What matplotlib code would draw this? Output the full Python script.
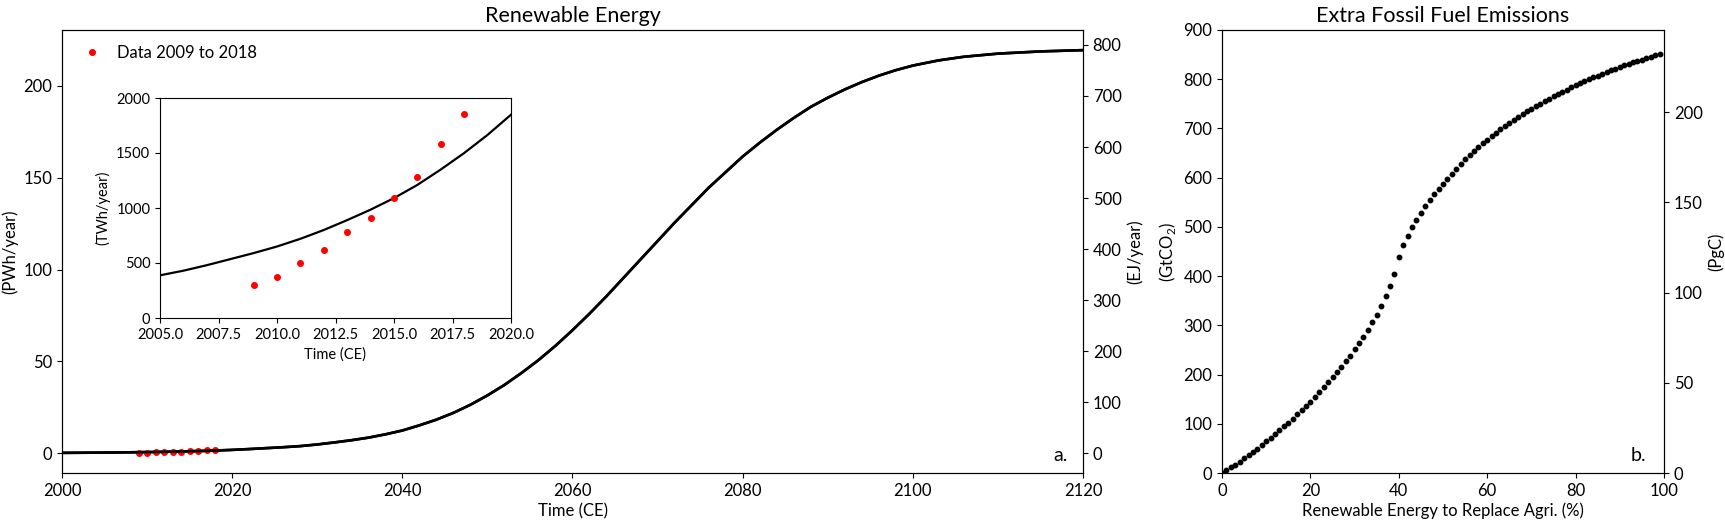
import numpy as np
import matplotlib
matplotlib.use('Agg')
import matplotlib.pyplot as plt

plt.rcParams['font.family'] = ['Lato', 'DejaVu Sans']
plt.rcParams['mathtext.fontset'] = 'custom'
plt.rcParams['mathtext.rm'] = 'Lato'

# fitted renewable energy curve (PWh/year)
fit_years = [2000, 2002, 2004, 2005, 2006, 2007, 2008, 2009, 2010, 2011, 2012, 2013, 2014,
             2015, 2016, 2017, 2018, 2019, 2020, 2022, 2024, 2026, 2028, 2030, 2032, 2034,
             2036, 2038, 2040, 2042, 2044, 2046, 2048, 2050, 2052, 2054, 2056, 2058, 2060,
             2062, 2064, 2066, 2068, 2070, 2072, 2074, 2076, 2078, 2080, 2082, 2084, 2086,
             2088, 2090, 2092, 2094, 2096, 2098, 2100, 2103, 2106, 2110, 2115, 2120]
fit_pwh = [0.23, 0.29, 0.35, 0.388, 0.43, 0.48, 0.535, 0.59, 0.65, 0.72, 0.80, 0.89, 0.985,
           1.09, 1.21, 1.35, 1.50, 1.665, 1.848, 2.3, 2.8, 3.3, 3.9, 4.8, 5.9, 7.1,
           8.5, 10.3, 12.4, 15.2, 18.3, 22.0, 26.4, 31.5, 37.2, 43.7, 50.7, 58.5, 67.0,
           76.0, 85.5, 95.5, 105.5, 115.5, 125.5, 135.0, 144.5, 153.0, 161.5, 169.0, 176.0, 182.5,
           188.5, 193.5, 198.0, 202.0, 205.5, 208.5, 211.0, 213.8, 215.8, 217.5, 218.7, 219.4]

# observed renewable generation 2009 to 2018 (TWh/year)
data_years = [2009, 2010, 2011, 2012, 2013, 2014, 2015, 2016, 2017, 2018]
data_twh = [297, 373, 500, 621, 782, 909, 1091, 1285, 1582, 1855]

# extra fossil fuel emissions (GtCO2) vs share of renewable energy (%)
pct = list(range(100))
emis = [0, 5.5, 11.2, 17.1, 23.2, 29.5, 36, 42.7, 49.6, 56.7,
        64, 71.5, 79, 86.7, 94.5, 102.5, 110.7, 119, 127.5, 136.2,
        145, 154.5, 164, 174, 184.5, 195, 205, 215, 227, 238,
        251, 264, 276, 291, 306, 322, 340, 359, 380, 404,
        438, 463, 482, 500, 514, 529, 542, 554, 566, 577,
        588, 598, 608, 618, 627.5, 637, 646, 654.5, 662.5, 670,
        677.5, 684.5, 691.5, 698, 704.5, 711, 717, 723, 729, 734.5,
        740, 745.5, 750.5, 755.5, 760.5, 765.5, 770, 774.5, 779, 783.5,
        788, 792, 796, 800, 804, 807.5, 811, 814.5, 818, 821.5,
        825, 828, 831, 834, 837, 840, 843, 846, 849, 852]

fit_pwh = np.array(fit_pwh)
data_twh = np.array(data_twh)
emis = np.array(emis)

fig = plt.figure(figsize=(17.25, 5.23), dpi=100)

# panel a
ax1 = fig.add_axes([62/1725, 50/523, 1021/1725, 443/523])
ax1.plot(fit_years, fit_pwh, color='black', lw=1.9)
ax1.plot(data_years, data_twh/1000, 'o', color='red', ms=4, label='Data 2009 to 2018')
ax1.set_xlim(2000, 2120)
ax1.set_xticks(range(2000, 2121, 20))
ax1.set_ylabel('(PWh/year)', fontsize=12)
ax1.set_xlabel('Time (CE)', fontsize=12, labelpad=3)
ax1.set_title('Renewable Energy', fontsize=15.5, pad=6)
ax1.tick_params(labelsize=12)
ax1.legend(loc='upper left', frameon=False, fontsize=12, handlelength=1.8, handletextpad=0.6)
ax1.text(0.985, 0.02, 'a.', transform=ax1.transAxes, ha='right', va='bottom', fontsize=14)

ax1r = ax1.twinx()
ax1r.plot(fit_years, fit_pwh*3.6, color='black', lw=1.9)
ax1r.set_ylim(np.array(ax1.get_ylim())*3.6)
ax1r.set_ylabel('(EJ/year)', fontsize=12)
ax1r.tick_params(labelsize=12)

# inset
ins = fig.add_axes([160/1725, 205/523, 351/1725, 220/523])
ins.plot(fit_years, fit_pwh*1000, color='black', lw=1.6)
ins.plot(data_years, data_twh, 'o', color='red', ms=4)
ins.set_xlim(2005, 2020)
ins.set_ylim(0, 2000)
ins.set_xticks([2005, 2007.5, 2010, 2012.5, 2015, 2017.5, 2020])
ins.set_xticklabels(['2005.0', '2007.5', '2010.0', '2012.5', '2015.0', '2017.5', '2020.0'])
ins.set_yticks([0, 500, 1000, 1500, 2000])
ins.tick_params(labelsize=10.5)
ins.set_xlabel('Time (CE)', fontsize=10.5)
ins.set_ylabel('(TWh/year)', fontsize=10.5)

# panel b
ax2 = fig.add_axes([1222/1725, 50/523, 442/1725, 443/523])
ax2.plot(pct, emis, 'o', color='black', ms=3.2)
ax2.set_xlim(0, 100)
ax2.set_ylim(0, 900)
ax2.set_yticks(range(0, 901, 100))
ax2.set_ylabel(r'(GtCO$_{\rm 2}$)', fontsize=12)
ax2.set_xlabel('Renewable Energy to Replace Agri. (%)', fontsize=12, labelpad=3)
ax2.set_title('Extra Fossil Fuel Emissions', fontsize=15.5, pad=6)
ax2.tick_params(labelsize=12)
ax2.text(0.96, 0.02, 'b.', transform=ax2.transAxes, ha='right', va='bottom', fontsize=14)

ax2r = ax2.twinx()
ax2r.set_ylim(0, 900*12/44)
ax2r.set_yticks([0, 50, 100, 150, 200])
ax2r.set_ylabel('(PgC)', fontsize=12)
ax2r.tick_params(labelsize=12)

fig.savefig('out.png', dpi=100)
